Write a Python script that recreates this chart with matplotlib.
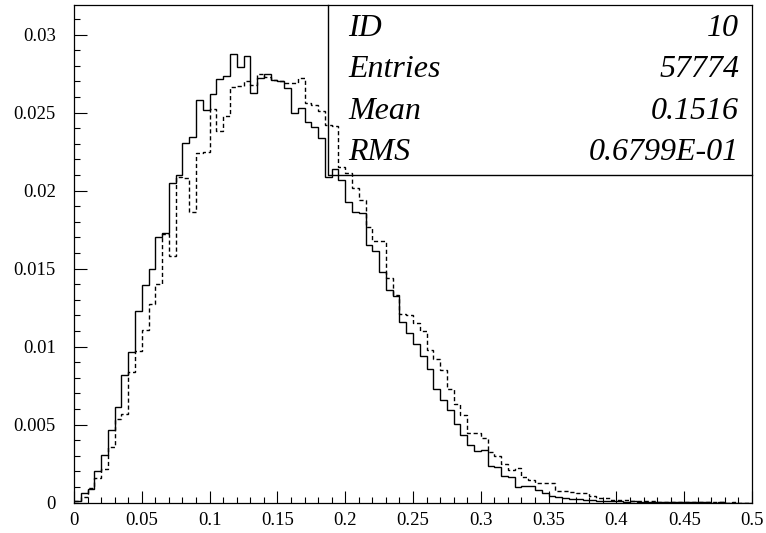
import numpy as np
import matplotlib
matplotlib.use("Agg")
import matplotlib.pyplot as plt

# histogram contents, 100 bins from 0 to 0.5
edges = np.linspace(0.0, 0.5, 101)

solid = [
    0.00013, 0.0006, 0.00088, 0.00201, 0.00304, 0.00464, 0.00616, 0.00819, 0.00964, 0.01229,
    0.01396, 0.01498, 0.01701, 0.01731, 0.02051, 0.02103, 0.02308, 0.02342, 0.02581, 0.02517,
    0.02622, 0.02716, 0.02733, 0.02873, 0.02795, 0.02861, 0.02626, 0.0272, 0.0275, 0.0271,
    0.0270, 0.0266, 0.0250, 0.0253, 0.0244, 0.0241, 0.0234, 0.0209, 0.02138, 0.0207,
    0.0193, 0.01866, 0.01855, 0.01649, 0.01612, 0.01481, 0.01365, 0.01327, 0.01157, 0.0109,
    0.0102, 0.0094, 0.00855, 0.00727, 0.00658, 0.00594, 0.00504, 0.00434, 0.0037, 0.00331,
    0.00338, 0.00237, 0.00227, 0.0017, 0.00167, 0.00103, 0.0011, 0.0011, 0.0008, 0.00065,
    0.00043, 0.00035, 0.0003, 0.00026, 0.00022, 0.00018, 0.00016, 0.0001, 0.00014, 0.0001,
    0.00009, 0.00007, 0.00008, 0.00005, 0.00006, 0.00004, 0.00005, 0.00003, 0.00004, 0.00003,
    0.00002, 0.00003, 0.00002, 0.00002, 0.00001, 0.00002, 0.00001, 0.00001, 0.00001, 0.00001,
]

dashed = [
    0.0001, 0.00038, 0.00092, 0.00158, 0.00216, 0.00359, 0.00538, 0.00567, 0.0084, 0.00973,
    0.01107, 0.01272, 0.01402, 0.0172, 0.01581, 0.02086, 0.0208, 0.01862, 0.0224, 0.0225,
    0.02524, 0.02383, 0.02479, 0.02667, 0.02673, 0.02705, 0.0268, 0.0275, 0.0273, 0.0271,
    0.0270, 0.0269, 0.0269, 0.0272, 0.0256, 0.0255, 0.0251, 0.0242, 0.02415, 0.0215,
    0.0211, 0.0202, 0.0194, 0.0177, 0.0168, 0.0168, 0.0144, 0.0133, 0.0121, 0.0120,
    0.01154, 0.01103, 0.00979, 0.00919, 0.00851, 0.00729, 0.00633, 0.00562, 0.00449, 0.00449,
    0.00413, 0.00323, 0.00299, 0.00246, 0.0021, 0.0022, 0.00167, 0.00146, 0.00128, 0.00128,
    0.00125, 0.00077, 0.00075, 0.00068, 0.00064, 0.00062, 0.0004, 0.0003, 0.00028, 0.0002,
    0.00018, 0.00015, 0.00012, 0.0001, 0.00012, 0.00008, 0.00006, 0.00007, 0.00005, 0.00004,
    0.00005, 0.00003, 0.00004, 0.00003, 0.00002, 0.00002, 0.00001, 0.00002, 0.00001, 0.00001,
]

xticks = [0, 0.05, 0.1, 0.15, 0.2, 0.25, 0.3, 0.35, 0.4, 0.45, 0.5]
xlabels = ["0", "0.05", "0.1", "0.15", "0.2", "0.25", "0.3", "0.35", "0.4", "0.45", "0.5"]
yticks = [0, 0.005, 0.01, 0.015, 0.02, 0.025, 0.03]
ylabels = ["0", "0.005", "0.01", "0.015", "0.02", "0.025", "0.03"]

stat_names = ["ID", "Entries", "Mean", "RMS"]
stat_values = ["10", "57774", "0.1516", "0.6799E-01"]

plt.rcParams["font.family"] = ["Liberation Serif", "DejaVu Serif"]

fig = plt.figure(figsize=(7.66, 5.33), dpi=100)
ax = fig.add_axes([74 / 766, 30.3 / 533, 678 / 766, 497.4 / 533])

ax.stairs(solid, edges, color="black", lw=1.0, baseline=None)
ax.stairs(dashed, edges, color="black", lw=1.0, ls=(0, (3, 2)), baseline=None)

ax.set_xlim(0, 0.5)
ax.set_ylim(0, 0.03188)

ax.set_xticks(xticks)
ax.set_xticklabels(xlabels)
ax.set_yticks(yticks)
ax.set_yticklabels(ylabels)
ax.set_xticks(np.arange(0, 0.5001, 0.01), minor=True)
ax.set_yticks(np.arange(0, 0.0319, 0.001), minor=True)
ax.tick_params(which="both", direction="in", top=False, right=False, width=0.8)
ax.tick_params(which="major", length=9, labelsize=13.5)
ax.tick_params(axis="y", which="major", pad=13)
ax.tick_params(axis="x", which="major", pad=7)
ax.tick_params(which="minor", length=4.5)
for sp in ax.spines.values():
    sp.set_linewidth(0.9)

# statistics box in the upper right corner (pixel layout of the original)
def ax_x(px):
    return (px - 74) / 678

def ax_y(py):
    return (502.7 - py) / 497.4

ax.plot([ax_x(328), ax_x(328), 1.0], [1.0, ax_y(175), ax_y(175)],
        transform=ax.transAxes, color="black", lw=1.0, clip_on=False)
for i, (name, val) in enumerate(zip(stat_names, stat_values)):
    yc = ax_y(28 + i * 41.5)
    ax.text(ax_x(348), yc, name, transform=ax.transAxes,
            fontsize=23, style="italic", ha="left", va="center")
    ax.text(ax_x(739), yc, val, transform=ax.transAxes,
            fontsize=23, style="italic", ha="right", va="center")

fig.savefig("out.png", dpi=100)
